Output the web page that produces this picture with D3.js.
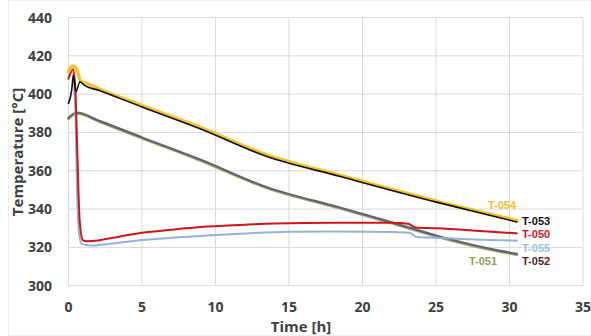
<!DOCTYPE html>
<html><head><meta charset="utf-8">
<script src="https://cdn.jsdelivr.net/npm/d3@7"></script>
<style>body{margin:0;background:#fff}svg{display:block}</style>
</head><body>
<script>
const xTicks = [0,5,10,15,20,25,30,35];
const yTicks = [300,320,340,360,380,400,420,440];
const xTitle = "Time [h]";
const yTitle = "Temperature [°C]";

const t054 = [[0,411.7],[0.26,414.7],[0.56,413],[0.83,406.5],[1.24,405.6],[2.14,402.5],[5,394],[9,382.5],[13.4,368.5],[18.5,357.5],[25.1,344],[30.5,334]];
const t053 = [[0,395.2],[0.22,402.2],[0.33,410],[0.51,401.3],[0.78,406.5],[1.05,404.8],[2.14,401.8],[5,393.3],[9,381.8],[13.4,367.7],[18.5,357],[25.1,343.5],[30.5,333.3]];
const t050 = [[0,408],[0.3,413],[0.45,405],[0.6,370],[0.75,335],[0.97,323.8],[1.24,323.2],[2,323.6],[3,325],[5,327.6],[7,329.2],[9,330.6],[12,331.8],[14,332.5],[18,332.9],[22,332.8],[23.1,332.3],[23.6,330.4],[25,330],[28,328.6],[30.5,327.3]];
const t055 = [[0,409],[0.25,412],[0.45,395],[0.58,350],[0.72,327],[0.9,321.8],[1.46,321],[3,322],[5,323.8],[7,325],[9,326],[12,327.3],[15,328.1],[18,328.3],[22,328],[23.2,327.6],[23.7,325.4],[25,325],[28,324],[30.5,323.5]];
const t051 = [[0,387.2],[0.56,390],[2.14,385.5],[5,377],[9,365.3],[13.5,351],[18.5,340.3],[21.7,333.3],[25,325.8],[28.7,318.8],[30.5,316.2]];
const t052 = [[0,387.6],[0.56,390.4],[2.14,385.9],[5,377.4],[9,365.7],[13.5,351.4],[18.5,340.7],[21.7,333.7],[25,326.2],[28.7,319.2],[30.5,316.6]];

const seriesNames = ["T-051","T-052","T-055","T-050","T-054","T-053"];
const seriesData = [t051,t052,t055,t050,t054,t053];
const lineColors = ["#9bb35f","#67607a","#95b3d7","#d0141c","#f5c22a","#111111"];
const lineWidths = [2.8,2.2,2,2,3.6,1.6];
const labelColors = {"T-054":"#f2c02a","T-053":"#111111","T-050":"#d0141c","T-055":"#9dbfe3","T-051":"#8aa255","T-052":"#5a2424"};
const labelPos = {"T-054":[502,205,"middle"],"T-053":[522,221,"start"],"T-050":[522,234.3,"start"],"T-055":[522,247.6,"start"],"T-051":[483,261,"middle"],"T-052":[522,261,"start"]};

const W=591,H=336;
const svg=d3.select("body").append("svg").attr("width",W).attr("height",H);
svg.append("rect").attr("x",8.5).attr("y",0.5).attr("width",W-9).attr("height",H-1).attr("fill","none").attr("stroke","#efefef");

const x=d3.scaleLinear().domain([0,35]).range([68.5,583]);
const y=d3.scaleLinear().domain([300,440]).range([285.7,17.5]);
const font="'Open Sans', sans-serif";
const lfont="'Liberation Sans', Arial, sans-serif";

const g=svg.append("g");
g.selectAll("line.h").data(yTicks).join("line")
  .attr("x1",x(0)).attr("x2",x(35)).attr("y1",d=>y(d)).attr("y2",d=>y(d))
  .attr("stroke","#d9d9d9").attr("stroke-width",1);
g.selectAll("line.v").data(xTicks).join("line")
  .attr("y1",y(300)).attr("y2",y(440)).attr("x1",d=>x(d)).attr("x2",d=>x(d))
  .attr("stroke","#d9d9d9").attr("stroke-width",1);

g.selectAll("text.yt").data(yTicks).join("text")
  .attr("x",52).attr("y",d=>y(d)).attr("dy","0.36em").attr("text-anchor","end")
  .attr("font-family",font).attr("font-weight","bold").attr("font-size",14).attr("fill","#404040")
  .text(d=>d);
g.selectAll("text.xt").data(xTicks).join("text")
  .attr("x",d=>x(d)).attr("y",307).attr("dy","0.36em").attr("text-anchor","middle")
  .attr("font-family",font).attr("font-weight","bold").attr("font-size",14).attr("fill","#404040")
  .text(d=>d);

svg.append("text").attr("x",301).attr("y",327).attr("dy","0.36em").attr("text-anchor","middle")
  .attr("font-family",font).attr("font-weight","bold").attr("font-size",15).attr("fill","#404040").text(xTitle);
svg.append("text").attr("transform","translate(18,152) rotate(-90)").attr("dy","0.36em").attr("text-anchor","middle")
  .attr("font-family",font).attr("font-weight","bold").attr("font-size",15).attr("fill","#404040").text(yTitle);

const line=d3.line().x(d=>x(d[0])).y(d=>y(d[1])).curve(d3.curveMonotoneX);
seriesData.forEach((s,i)=>{
  svg.append("path").datum(s).attr("d",line).attr("fill","none")
    .attr("stroke",lineColors[i]).attr("stroke-width",lineWidths[i]).attr("stroke-linejoin","round").attr("stroke-linecap","round");
});

seriesNames.forEach(n=>{
  const p=labelPos[n];
  svg.append("text").attr("x",p[0]).attr("y",p[1]).attr("dy","0.36em").attr("text-anchor",p[2])
    .attr("font-family",lfont).attr("font-weight","bold").attr("font-size",11).attr("fill",labelColors[n]).text(n);
});
</script>
</body></html>
